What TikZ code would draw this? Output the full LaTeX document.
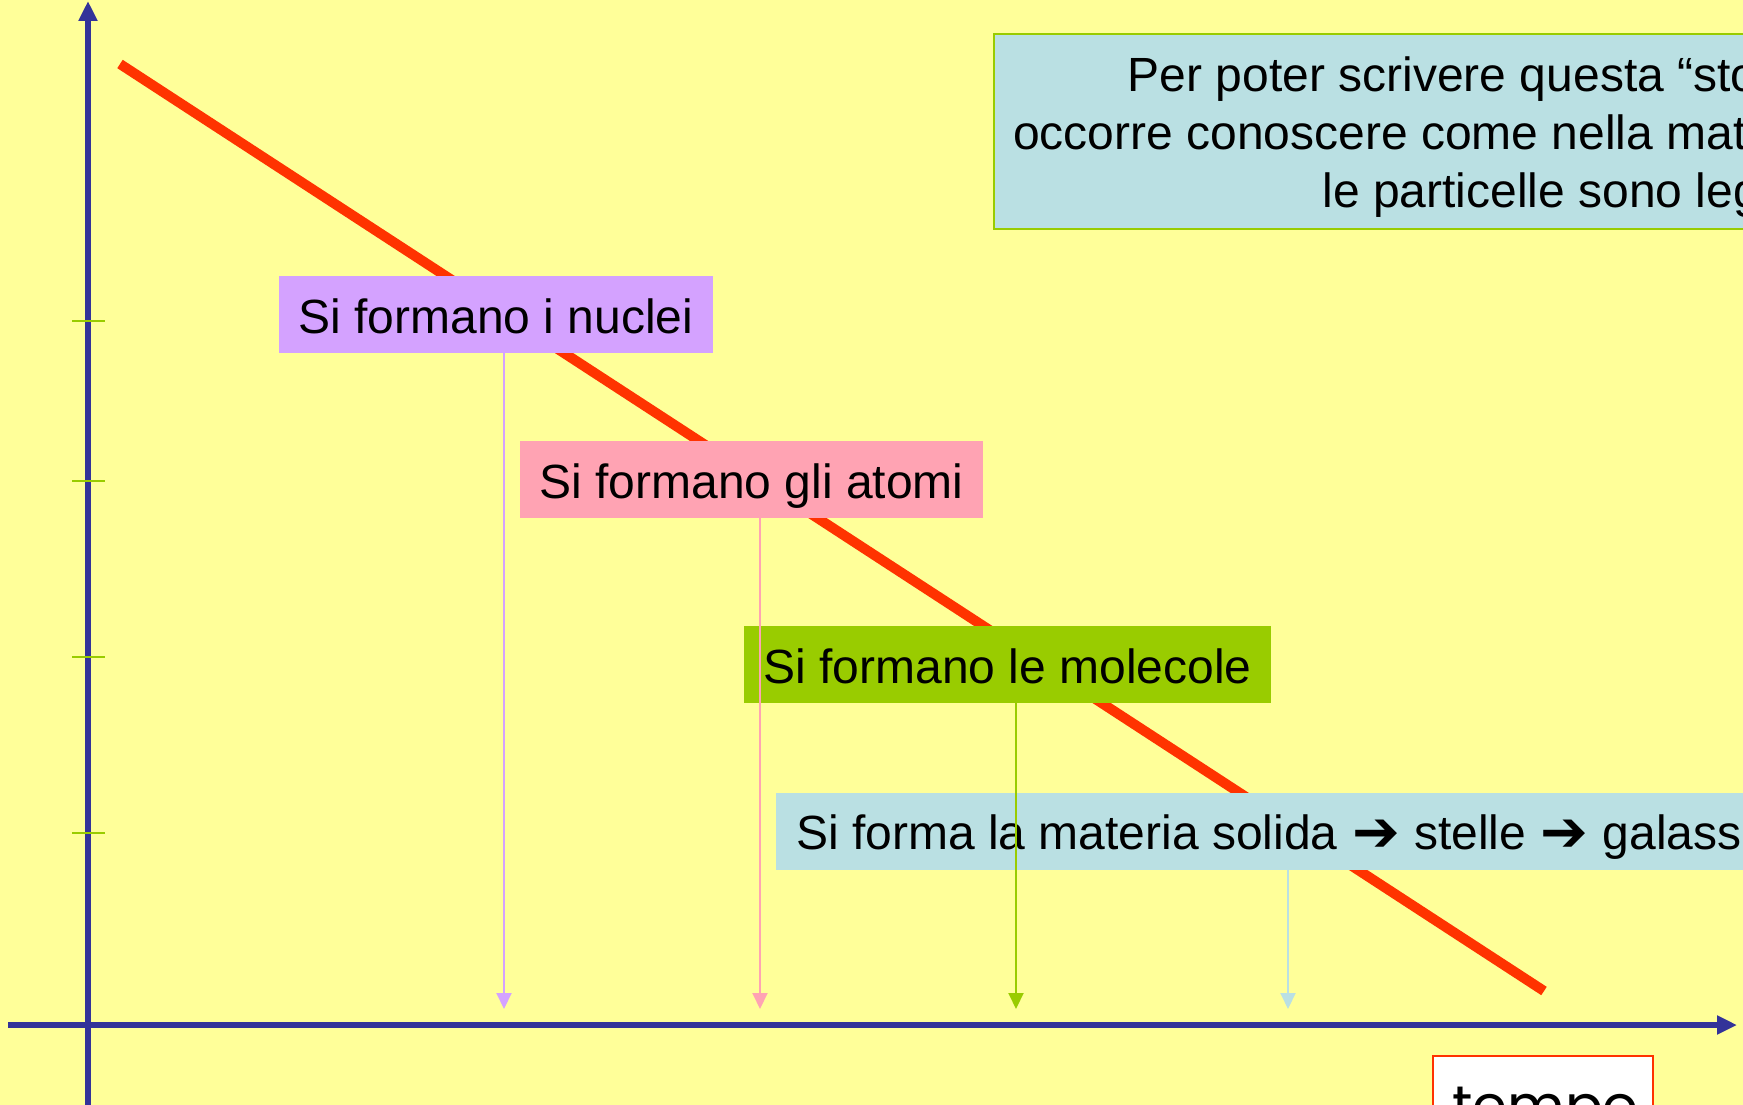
\documentclass[tikz,border=0pt]{standalone}
\usepackage{fontspec}
\setmainfont{Liberation Sans}
\newfontfamily\dvfont{DejaVu Sans}
\newfontfamily\tempofont{Poppins}
\usetikzlibrary{arrows.meta}
\definecolor{bgc}{HTML}{FFFF99}
\definecolor{axisc}{HTML}{333399}
\definecolor{redc}{HTML}{FF3300}
\definecolor{tickc}{HTML}{99CC00}
\definecolor{purpc}{HTML}{D4A2FF}
\definecolor{pinkc}{HTML}{FFA3B3}
\definecolor{greenc}{HTML}{99CC00}
\definecolor{lbluec}{HTML}{BAE0E3}
\newcommand\heavyarr{\hspace{1pt}{\dvfont\fontsize{57}{60}\selectfont\raisebox{-2pt}{➔}}\hspace{1pt}}
\tikzset{
  axisline/.style={draw=axisc, line width=6pt, -{Triangle[width=18pt,length=20pt]}},
  tickline/.style={draw=tickc, line width=2pt},
  redline/.style={draw=redc, line width=10pt},
  labelbox/.style={inner sep=0pt, minimum height=77pt, text height=37pt, text depth=0pt,
     font=\fontsize{48}{57.5}\selectfont},
  droparrow/.style={draw=#1, line width=2pt, -{Triangle[width=15pt,length=16pt,fill=#1]}},
  bigtext/.style={inner sep=0pt, anchor=base east, font=\fontsize{48}{57.5}\selectfont}
}
\begin{document}
\begin{tikzpicture}[x=1pt,y=-1pt]
\useasboundingbox (0,0) rectangle (1743,1105);
\clip (0,0) rectangle (1743,1105);
\fill[bgc] (0,0) rectangle (1743,1105);

% axes
\coordinate (yb) at (88,1110);
\coordinate (yt) at (88,1);
\coordinate (xl) at (8,1025);
\coordinate (xr) at (1737,1025);
\draw[axisline] (yb) -- (yt);
\draw[axisline] (xl) -- (xr);

% ticks
\foreach \ty/\nm in {321/t1,481/t2,657/t3,833/t4}{
  \coordinate (\nm l) at (72,\ty);
  \coordinate (\nm r) at (105,\ty);
  \draw[tickline] (\nm l) -- (\nm r);
}

% red line
\coordinate (rs) at (120,64);
\coordinate (re) at (1544,991);
\draw[redline] (rs) -- (re);

% top right box
\node[draw=greenc, fill=lbluec, line width=2pt, inner sep=0pt, anchor=north west,
      minimum width=900pt, minimum height=195pt] (info) at (993,33) {};
\node[bigtext] (l1) at (1827,92) {Per poter scrivere questa “storia”};
\node[bigtext] (l2) at (1827,149.5) {occorre conoscere come nella materia};
\node[bigtext] (l3) at (1827,207) {le particelle sono legate};

% label boxes
\node[labelbox, fill=purpc, minimum width=434pt] (n1) at (496,314.5) {Si formano i nuclei};
\node[labelbox, fill=pinkc, minimum width=463pt] (n2) at (751.5,479.5) {Si formano gli atomi};
\node[labelbox, fill=greenc, minimum width=527pt] (n3) at (1007.5,664.5) {Si formano le molecole};
\node[labelbox, fill=lbluec, inner xsep=20pt, anchor=west] (n4) at (776,831)
   {Si forma la materia solida \heavyarr{} stelle \heavyarr{} galassie};

% drop arrows
\coordinate (a1) at (504,1009);
\coordinate (a2) at (760,1009);
\coordinate (a3) at (1016,1009);
\coordinate (a4) at (1288,1009);
\draw[droparrow=purpc] (a1 |- n1.south) -- (a1);
\draw[droparrow=pinkc] (a2 |- n2.south) -- (a2);
\draw[droparrow=greenc] (a3 |- n3.south) -- (a3);
\draw[droparrow=lbluec] (a4 |- n4.south) -- (a4);

% tempo box
\node[draw=redc, fill=white, line width=2pt, inner sep=0pt, anchor=north west,
      minimum width=220pt, minimum height=100pt] (tbox) at (1432,1055) {};
\node[inner sep=0pt, anchor=base west, font=\tempofont\fontsize{56}{60}\selectfont] (tlabel) at (1452,1125) {tempo};
\end{tikzpicture}
\end{document}
